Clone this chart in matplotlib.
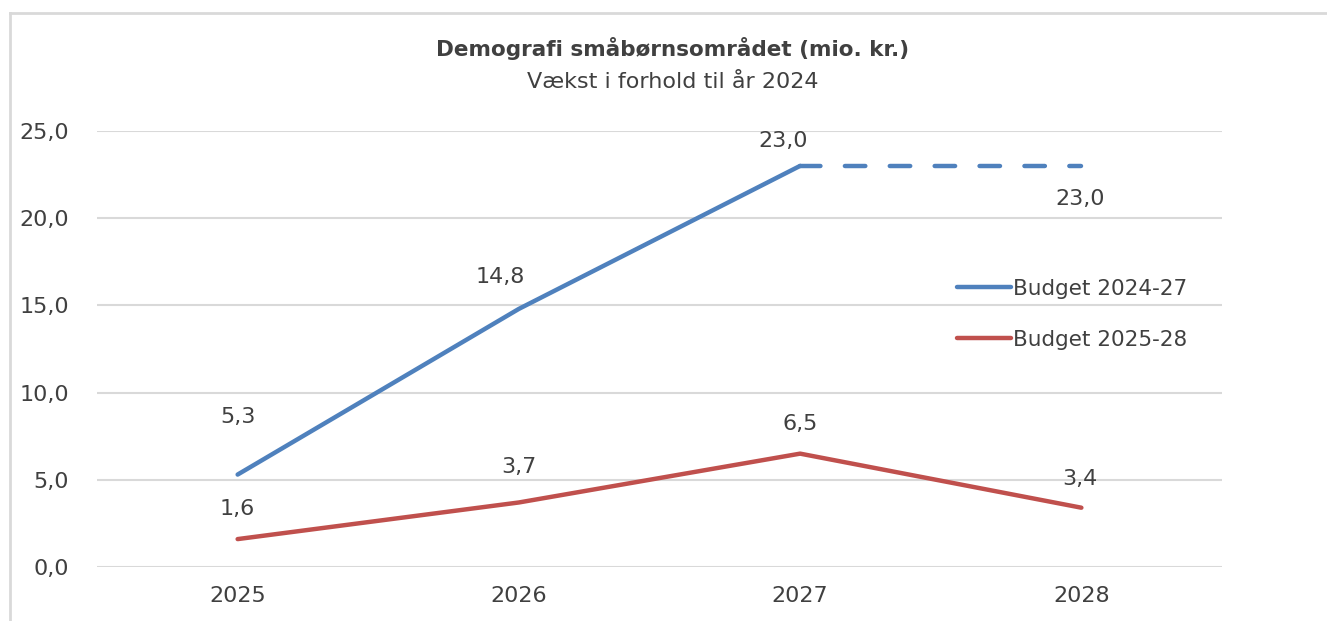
import matplotlib
matplotlib.use("Agg")
import matplotlib.pyplot as plt
from matplotlib.lines import Line2D

# ---------- Data ----------
years = ["2025", "2026", "2027", "2028"]
budget_2024_27 = [5.3, 14.8, 23.0, 23.0]
budget_2025_28 = [1.6, 3.7, 6.5, 3.4]
y_ticks = [0, 5, 10, 15, 20, 25]

# label offsets (pixels) relative to each point
blue_offsets = [(0, 58), (-19, 32), (-17, 25), (-1, -33)]
red_offsets = [(0, 30), (0, 35), (0, 30), (-1, 29)]

BLUE = "#4f81bd"
RED = "#c0504d"
TEXT = "#404040"
GRID = "#d9d9d9"
FS = 16

plt.rcParams["font.family"] = ["DejaVu Sans"]

fig = plt.figure(figsize=(13.27, 6.21), dpi=100)
ax = fig.add_axes([97 / 1327, 1 - 567 / 621, (1222 - 97) / 1327, (567 - 131) / 621])

x = list(range(len(years)))

# solid part of the blue series, dashed for the last year
ax.plot(x[:3], budget_2024_27[:3], color=BLUE, lw=3.2, solid_capstyle="round",
        label="Budget 2024-27", zorder=3)
ax.plot(x[2:], budget_2024_27[2:], color=BLUE, lw=3.2, ls=(0, (4.6, 5.5)),
        dash_capstyle="round", zorder=3)
ax.plot(x, budget_2025_28, color=RED, lw=3.2, solid_capstyle="round",
        label="Budget 2025-28", zorder=3)

for xi, v, off in zip(x, budget_2024_27, blue_offsets):
    ax.annotate(f"{v:.1f}".replace(".", ","), (xi, v), xytext=off,
                textcoords="offset pixels", ha="center", va="center",
                fontsize=FS, color=TEXT)
for xi, v, off in zip(x, budget_2025_28, red_offsets):
    ax.annotate(f"{v:.1f}".replace(".", ","), (xi, v), xytext=off,
                textcoords="offset pixels", ha="center", va="center",
                fontsize=FS, color=TEXT)

ax.set_xlim(-0.5, 3.5)
ax.set_ylim(0, 25)
ax.set_xticks(x)
ax.set_xticklabels(years)
ax.set_yticks(y_ticks)
ax.set_yticklabels([f"{t:.1f}".replace(".", ",") for t in y_ticks])
ax.tick_params(length=0, labelsize=FS, colors=TEXT)
ax.tick_params(axis="y", pad=20)
ax.tick_params(axis="x", pad=14)
ax.grid(axis="y", color=GRID, lw=1.5)
ax.set_axisbelow(True)
for s in ax.spines.values():
    s.set_visible(False)

leg = ax.legend(loc="center left", bbox_to_anchor=(0.747, 0.58), frameon=False,
                fontsize=FS - 0.5, handlelength=2.5, handletextpad=0.12,
                labelspacing=1.45, labelcolor=TEXT)

fig.text(0.507, 1 - 48 / 621, "Demografi småbørnsområdet (mio. kr.)",
         ha="center", va="center", fontsize=FS - 0.5, fontweight="bold", color=TEXT)
fig.text(0.507, 1 - 82 / 621, "Vækst i forhold til år 2024",
         ha="center", va="center", fontsize=FS, color=TEXT)

# chart frame (left and top edge visible)
fig.add_artist(Line2D([10 / 1327, 10 / 1327], [0, 1 - 13 / 621],
                      color=GRID, lw=2, transform=fig.transFigure))
fig.add_artist(Line2D([10 / 1327, 1], [1 - 13 / 621, 1 - 13 / 621],
                      color=GRID, lw=2, transform=fig.transFigure))

fig.savefig("out.png", dpi=100)
plt.close(fig)
